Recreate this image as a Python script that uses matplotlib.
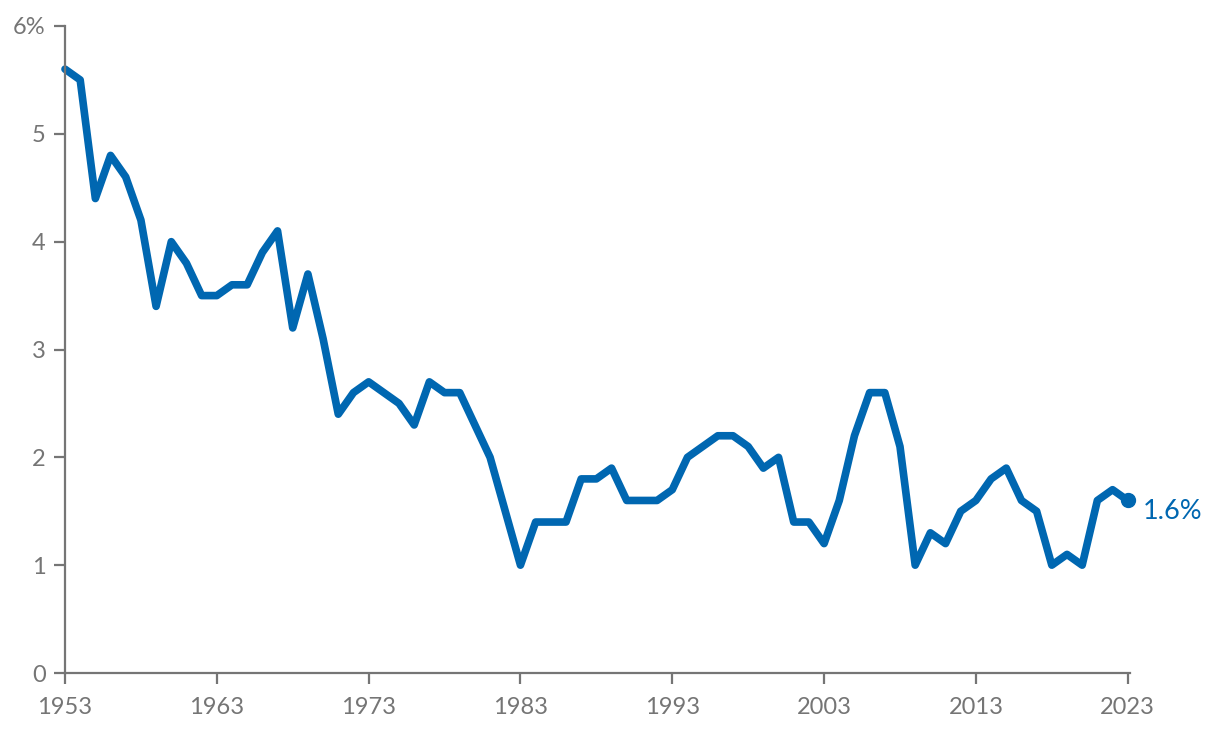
import matplotlib
matplotlib.use("Agg")
import matplotlib.pyplot as plt

plt.rcParams['font.family'] = ['Lato', 'DejaVu Sans']

# ---------- DATA ----------
years = list(range(1953, 2024))
values = [
    5.6, 5.5, 4.4, 4.8, 4.6, 4.2, 3.4, 4.0, 3.8, 3.5,   # 1953-1962
    3.5, 3.6, 3.6, 3.9, 4.1, 3.2, 3.7, 3.1, 2.4, 2.6,   # 1963-1972
    2.7, 2.6, 2.5, 2.3, 2.7, 2.6, 2.6, 2.3, 2.0, 1.5,   # 1973-1982
    1.0, 1.4, 1.4, 1.4, 1.8, 1.8, 1.9, 1.6, 1.6, 1.6,   # 1983-1992
    1.7, 2.0, 2.1, 2.2, 2.2, 2.1, 1.9, 2.0, 1.4, 1.4,   # 1993-2002
    1.2, 1.6, 2.2, 2.6, 2.6, 2.1, 1.0, 1.3, 1.2, 1.5,   # 2003-2012
    1.6, 1.8, 1.9, 1.6, 1.5, 1.0, 1.1, 1.0, 1.6, 1.7,   # 2013-2022
    1.6,                                                # 2023
]
x_ticks = [1953, 1963, 1973, 1983, 1993, 2003, 2013, 2023]
y_ticks = [0, 1, 2, 3, 4, 5, 6]
y_labels = ["0", "1", "2", "3", "4", "5", "6%"]

BLUE = "#0067B1"
GRAY = "#757575"

fig = plt.figure(figsize=(12.2, 7.36), dpi=100)
ax = fig.add_axes([65 / 1220, 1 - 673 / 736, (1130 - 65) / 1220, (673 - 26) / 736])

ax.plot(years, values, color=BLUE, lw=5.5, solid_joinstyle='round',
        solid_capstyle='round', clip_on=False)
ax.plot(years[-1], values[-1], 'o', color=BLUE, ms=10, clip_on=False)
ax.annotate(f"{values[-1]:.1f}%", (years[-1], values[-1]), xytext=(11, -8),
            textcoords='offset points', color=BLUE, fontsize=19.5, va='center', ha='left')

ax.set_xlim(1953, 2023.15)
ax.set_ylim(0, 6)
ax.set_xticks(x_ticks)
ax.set_yticks(y_ticks)
ax.set_yticklabels(y_labels)

for s in ['top', 'right']:
    ax.spines[s].set_visible(False)
for s in ['left', 'bottom']:
    ax.spines[s].set_color(GRAY)
    ax.spines[s].set_linewidth(1.6)

ax.tick_params(axis='both', colors=GRAY, labelcolor=GRAY, labelsize=17, width=1.6, length=8)
ax.tick_params(axis='x', pad=9)
ax.tick_params(axis='y', pad=6)

fig.savefig("out.png", dpi=100)
